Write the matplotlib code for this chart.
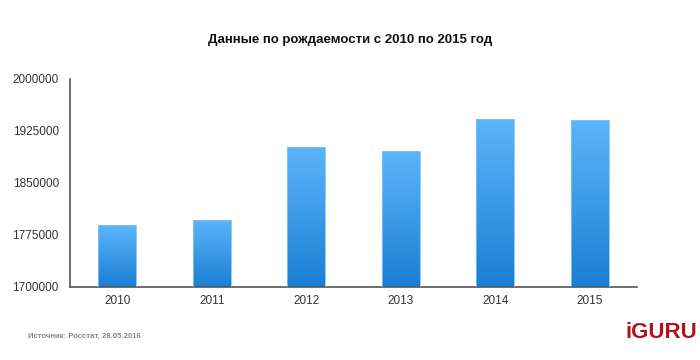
import numpy as np
import matplotlib
matplotlib.use("Agg")
import matplotlib.pyplot as plt
from matplotlib.colors import LinearSegmentedColormap

plt.rcParams['font.family'] = ['Liberation Sans', 'DejaVu Sans']

years = ['2010', '2011', '2012', '2013', '2014', '2015']
births = [1788948, 1796629, 1902084, 1895822, 1942683, 1940579]
y_ticks = [1700000, 1775000, 1850000, 1925000, 2000000]

title = 'Данные по рождаемости с 2010 по 2015 год'
source = 'Источник: Росстат, 28.05.2016'

fig = plt.figure(figsize=(7, 3.6), dpi=100)
ax = fig.add_axes([0.1, 0.203, 0.81, 0.578])

ymin, ymax = y_ticks[0], y_ticks[-1]
grad = LinearSegmentedColormap.from_list('bar', ['#1a7fd4', '#5db5fa'])
img = np.linspace(0, 1, 256).reshape(-1, 1)

x = np.arange(len(years))
bars = ax.bar(x, births, width=0.4, bottom=0, color='none',
              edgecolor='#7cc4fb', linewidth=0.6, zorder=3)
for b, v in zip(bars, births):
    xl = b.get_x()
    im = ax.imshow(img, cmap=grad, origin='lower', aspect='auto',
                   extent=[xl, xl + b.get_width(), ymin, v], zorder=2)
    im.set_clip_path(b)

ax.set_xlim(-0.5, len(years) - 0.5)
ax.set_ylim(ymin, ymax)
ax.set_xticks(x)
ax.set_xticklabels(years)
ax.set_yticks(y_ticks)
ax.set_yticklabels([str(t) for t in y_ticks])
ax.tick_params(length=0, labelsize=8.5, colors='#333333', pad=8)
ax.tick_params(axis='x', pad=6)
for s in ['top', 'right']:
    ax.spines[s].set_visible(False)
for s in ['left', 'bottom']:
    ax.spines[s].set_color('#555555')
    ax.spines[s].set_linewidth(1.2)

fig.text(0.5, 0.888, title, ha='center', va='center',
         fontsize=9.5, fontweight='bold', color='#111111')
fig.text(0.04, 0.067, source, ha='left', va='center',
         fontsize=5.6, fontweight='bold', color='#888888')
fig.text(0.996, 0.075, 'iGURU', ha='right', va='center',
         fontsize=16, fontweight='bold', color='#b3121b')

fig.savefig('out.png', dpi=100)
